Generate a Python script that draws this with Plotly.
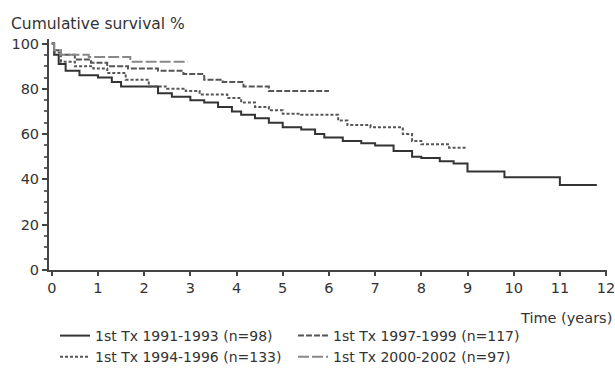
import plotly.graph_objects as go

# ---- data ----
t_9193 = [0, 0.05, 0.15, 0.3, 0.6, 1.0, 1.3, 1.5, 2.3, 2.6, 3.0, 3.3, 3.6, 3.9, 4.1, 4.4, 4.7, 5.0,
          5.4, 5.7, 5.9, 6.3, 6.7, 7.0, 7.4, 7.8, 8.0, 8.4, 8.7, 9.0, 9.8, 11.0, 11.8]
s_9193 = [100, 95, 91, 88, 86, 85, 83, 81, 78, 76.5, 75, 74, 72, 70, 68.5, 67, 65, 63,
          62, 60, 58.5, 57, 56, 55, 52.5, 50, 49.5, 48, 47, 43.5, 41, 37.5, 37.5]

t_9496 = [0, 0.05, 0.2, 0.5, 0.9, 1.2, 1.6, 2.1, 2.5, 2.9, 3.2, 3.8, 4.1, 4.4, 4.7, 5.0, 5.4,
          6.2, 6.4, 6.9, 7.6, 7.8, 8.0, 8.6, 9.0]
s_9496 = [100, 96, 92, 90, 89, 87, 84, 81, 80, 79, 77.5, 76, 74, 72, 70.5, 69, 68.5,
          66, 64, 63, 60, 57, 55.5, 54, 54]

t_9799 = [0, 0.05, 0.2, 0.5, 0.85, 1.2, 1.65, 2.3, 2.85, 3.3, 3.7, 4.15, 4.7, 6.0]
s_9799 = [100, 97, 95, 93, 91.5, 90, 89, 88, 86.5, 84, 83, 81, 79, 79]

t_0002 = [0, 0.05, 0.2, 0.8, 1.7, 2.95]
s_0002 = [100, 97, 95, 94, 92, 92]

labels = ["1st Tx 1991-1993 (n=98)", "1st Tx 1997-1999 (n=117)",
          "1st Tx 1994-1996 (n=133)", "1st Tx 2000-2002 (n=97)"]
x_ticks = list(range(0, 13))
y_ticks = [0, 20, 40, 60, 80, 100]

FONT = "DejaVu Sans"
series = [
    (t_9193, s_9193, labels[0], "#333333", "solid", 2),
    (t_9799, s_9799, labels[1], "#555555", "6px,2px", 2),
    (t_9496, s_9496, labels[2], "#555555", "3px,2px", 2),
    (t_0002, s_0002, labels[3], "#888888", "11px,3px", 2),
]

W, H = 615, 370
# plot area in pixels
PL, PR, PT, PB = 49, 607, 39, 270
L, R, T, B = PL, W - PR, PT, H - PB
PW, PH = PR - PL, PB - PT


def px(x):
    return (x - PL) / PW


def py(y):
    return (PB - y) / PH


fig = go.Figure()
for t, s, name, col, dash, w in series:
    fig.add_trace(go.Scatter(x=t, y=s, name=name, mode="lines", line_shape="hv",
                             line=dict(color=col, dash=dash, width=w)))

fig.update_layout(
    width=W, height=H,
    margin=dict(l=L, r=R, t=T, b=B, autoexpand=False),
    plot_bgcolor="white", paper_bgcolor="white",
    font=dict(family=FONT, color="#333333", size=14),
    showlegend=True,
    legend=dict(orientation="h", x=px(55), xanchor="left", y=py(320), yanchor="top",
                font=dict(size=14, family=FONT, color="#333333"),
                entrywidth=193, entrywidthmode="pixels", tracegroupgap=0,
                itemwidth=30, bgcolor="rgba(0,0,0,0)"),
)
fig.update_xaxes(range=[-0.06, 12.02], tickvals=x_ticks, ticktext=[str(v) for v in x_ticks],
                 showgrid=False, zeroline=False, showline=True, linecolor="#444444", linewidth=2,
                 ticks="outside", ticklen=4, tickcolor="#444444", tickwidth=2,
                 ticklabeloverflow="allow",
                 tickfont=dict(size=14.5, family=FONT, color="#333333"))
fig.update_yaxes(range=[0, 102], tickvals=y_ticks, ticktext=[str(v) for v in y_ticks],
                 showgrid=False, zeroline=False, showline=True, linecolor="#444444", linewidth=2,
                 ticks="outside", ticklen=5, tickcolor="#444444", tickwidth=2,
                 minor=dict(dtick=5, ticks="outside", ticklen=3, tickcolor="#666666", tickwidth=1.5,
                            showgrid=False),
                 tickfont=dict(size=14.5, family=FONT, color="#333333"))

fig.add_annotation(text="Cumulative survival %", xref="paper", yref="paper",
                   x=px(9), y=py(24), xanchor="left", yanchor="middle",
                   showarrow=False, font=dict(size=15.5, family=FONT, color="#333333"))
fig.add_annotation(text="Time (years)", xref="paper", yref="paper",
                   x=px(614), y=py(318), xanchor="right", yanchor="middle",
                   showarrow=False, font=dict(size=14.5, family=FONT, color="#333333"))

# remove the default page margin so the 615x370 figure fills the window exactly
fig.write_html("out.html", config={"displayModeBar": False},
               post_script="document.documentElement.style.overflow='hidden';"
                           "document.body.style.margin='0';document.body.style.overflow='hidden';")
